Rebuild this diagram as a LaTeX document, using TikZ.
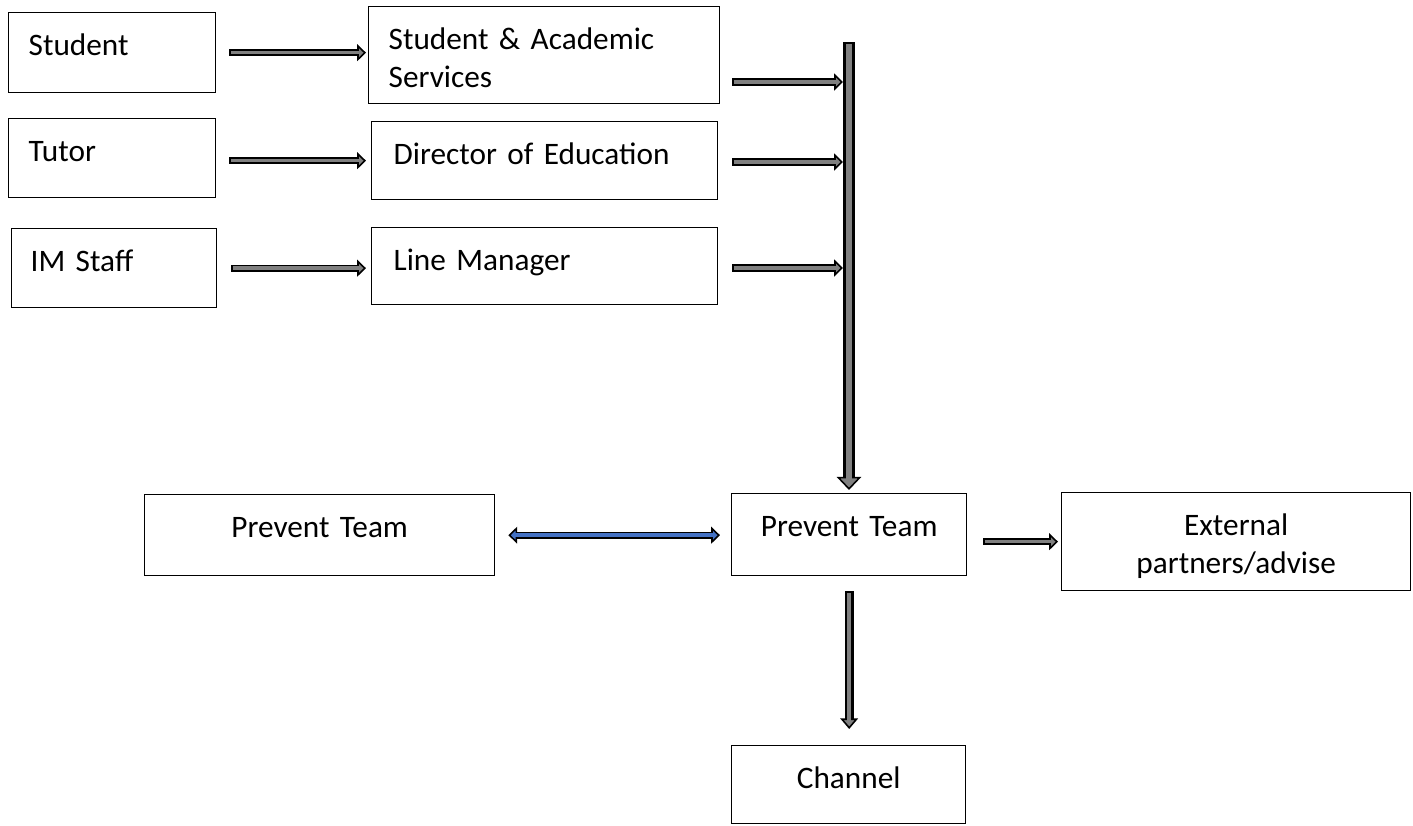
\documentclass[tikz,border=0pt]{standalone}
\usepackage{fontspec}
\setmainfont{Carlito}
\usetikzlibrary{arrows.meta, positioning}
\definecolor{arrow_grey}{RGB}{128, 128, 128}
\definecolor{arrow_blue}{RGB}{68, 114, 196}

\tikzset{
  box/.style={draw, line width=0.8pt, inner ysep=0pt, text height=0.86cm,
    font=\fontsize{17.8}{21.4}\selectfont},
  leftbox/.style={box, anchor=north west, align=left},
  midbox/.style={box, anchor=north west, align=center, inner xsep=0pt},
  % small grey block arrow
  garrow/.style 2 args={draw=black, line width=4.2pt, shorten <=#1, shorten >=#2,
    -{Triangle[length=5pt, width=9.5pt, line width=0.9pt, fill=arrow_grey]},
    postaction={draw=arrow_grey, line width=2pt, -, shorten <=#1+1pt, shorten >=#2+3pt}},
  % big vertical bar
  bararrow/.style={draw=black, line width=6.8pt, shorten >=0.06cm,
    -{Triangle[length=7.5pt, width=14pt, line width=0.9pt, fill=arrow_grey]},
    postaction={draw=arrow_grey, line width=3.6pt, -, shorten <=1.1pt, shorten >=0.06cm+5pt}},
  downarrow/.style 2 args={draw=black, line width=5pt, shorten <=#1, shorten >=#2,
    -{Triangle[length=6pt, width=10pt, line width=0.9pt, fill=arrow_grey]},
    postaction={draw=arrow_grey, line width=2.5pt, -, shorten <=#1+1pt, shorten >=#2+4pt}},
  barrow/.style 2 args={draw=black, line width=4.2pt, shorten <=#1, shorten >=#2,
    {Triangle[length=5pt, width=9.5pt, line width=0.9pt, fill=arrow_blue]}-{Triangle[length=5pt, width=9.5pt, line width=0.9pt, fill=arrow_blue]},
    postaction={draw=arrow_blue, line width=2pt, -, shorten <=#1+3pt, shorten >=#2+3pt}},
}

\begin{document}
\begin{tikzpicture}[x=0.02cm, y=-0.02cm]
  \useasboundingbox (0,0) rectangle (1413,825);

  % Sources
  \node[leftbox, inner xsep=0.4cm, text width=3.34cm, text depth=0.74cm] (stud) at (8,12) {Student};
  \node[leftbox, inner xsep=0.4cm, text width=3.34cm, text depth=0.72cm] (tut) at (8,118) {Tutor};
  \node[leftbox, inner xsep=0.38cm, text width=3.34cm, text depth=0.72cm] (ims) at (11,228) {IM Staff};

  % First contacts
  \node[leftbox, inner xsep=0.4cm, text width=6.22cm, text depth=1.08cm] (sas) at (368,6) {Student \& Academic\\Services};
  \node[leftbox, inner xsep=0.44cm, text width=6.04cm, text depth=0.70cm] (doe) at (371,121) {Director of Education};
  \node[leftbox, inner xsep=0.44cm, text width=6.04cm, text depth=0.68cm] (lm) at (371,227) {Line Manager};

  % Prevent row
  \node[midbox, text width=7.0cm, text depth=0.76cm] (prevl) at (144,494) {Prevent Team};
  \node[midbox, text width=4.7cm, text depth=0.78cm] (prev) at (731,493) {Prevent Team};
  \node[midbox, text width=6.98cm, text depth=1.10cm] (ext) at (1061,492) {External\\partners/advise};
  \node[midbox, text width=4.68cm, text depth=0.70cm] (chan) at (731,745) {Channel};

  % bar points
  \coordinate (bartop) at (849,42);
  \coordinate (in1) at (843,82);
  \coordinate (in2) at (843,162);
  \coordinate (in3) at (843,268);

  % Add arrows
  \draw[garrow={0.26cm}{0.04cm}] (stud.east) -- (sas.west |- stud.east);
  \draw[garrow={0.26cm}{0.1cm}] (tut.east |- doe.west) -- (doe.west);
  \draw[garrow={0.28cm}{0.1cm}] (ims.east) -- (lm.west |- ims.east);

  \draw[garrow={0.24cm}{0pt}] (sas.east |- in1) -- (in1);
  \draw[garrow={0.28cm}{0pt}] (doe.east |- in2) -- (in2);
  \draw[garrow={0.28cm}{0pt}] (lm.east |- in3) -- (in3);

  \draw[bararrow] (bartop) -- (bartop |- prev.north);

  \draw[barrow={0.26cm}{0.22cm}] (prevl.east) -- (prevl.east -| prev.west);
  \draw[garrow={0.32cm}{0.06cm}] (prev.east |- ext.west) -- (ext.west);
  \draw[downarrow={0.3cm}{0.32cm}] (prev.south) -- (prev.south |- chan.north);
\end{tikzpicture}
\end{document}
